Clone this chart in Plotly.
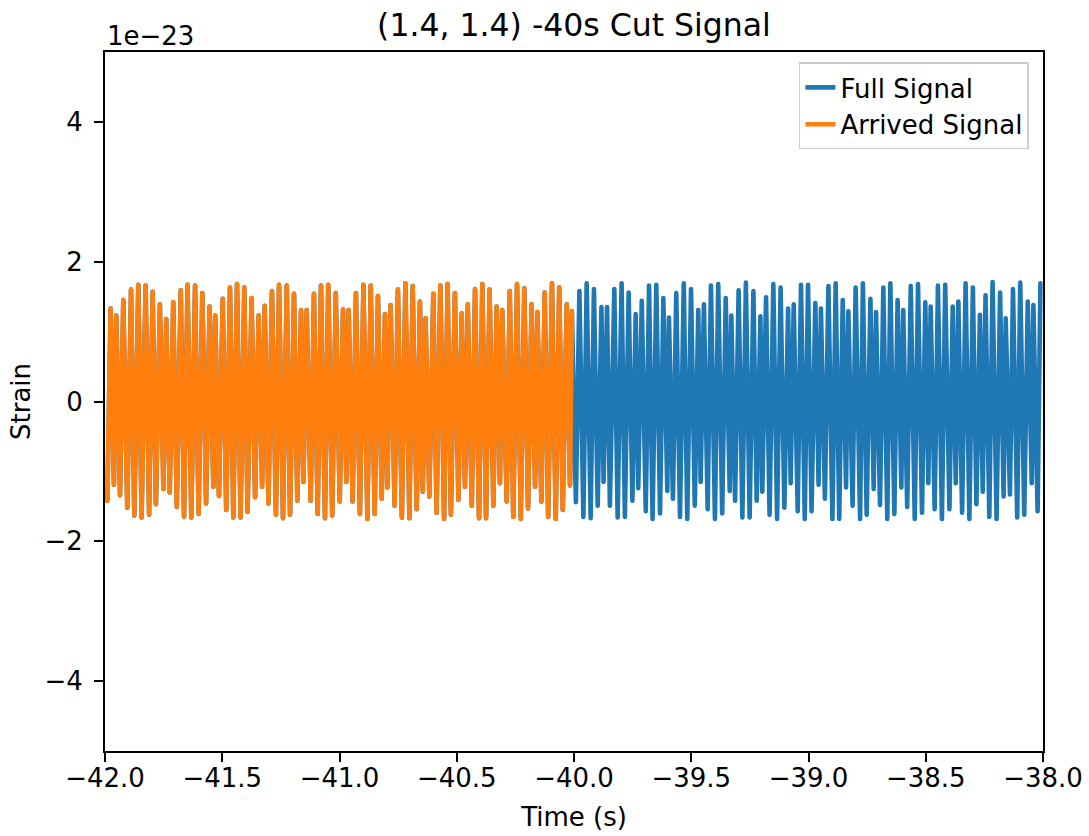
import numpy as np
import plotly.graph_objects as go

# Strain values are in units of 1e-23 (matplotlib offset text "1e−23")
# Per-cycle minima (troughs) and maxima (peaks) of the waveform
trough_time = [
    -41.990, -41.962, -41.936, -41.905, -41.875, -41.844, -41.812, -41.783, -41.751, -41.724,
    -41.694, -41.663, -41.632, -41.601, -41.569, -41.538, -41.514, -41.483, -41.453, -41.422,
    -41.392, -41.360, -41.330, -41.303, -41.271, -41.241,
    -41.211, -41.180, -41.154, -41.123, -41.093, -41.062, -41.031, -40.999, -40.971, -40.944,
    -40.913, -40.881, -40.850, -40.820, -40.796, -40.765, -40.734, -40.702, -40.671, -40.645,
    -40.617, -40.586, -40.554, -40.525, -40.493, -40.465, -40.436,
    -40.405, -40.375, -40.344, -40.316, -40.287, -40.259, -40.227, -40.196, -40.166, -40.139,
    -40.110, -40.078, -40.048, -40.017, -39.992, -39.960, -39.929, -39.899, -39.874, -39.847,
    -39.814, -39.783, -39.751, -39.726, -39.694, -39.665,
    -39.633, -39.602, -39.578, -39.548, -39.517, -39.485, -39.460, -39.430, -39.399, -39.368,
    -39.336, -39.313, -39.282, -39.251, -39.221, -39.197, -39.166, -39.134, -39.103, -39.076,
    -39.046, -39.016, -38.987, -38.957, -38.930, -38.898, -38.869,
    -38.840, -38.812, -38.780, -38.752, -38.722, -38.695, -38.664, -38.634, -38.604, -38.579,
    -38.547, -38.516, -38.489, -38.462, -38.431, -38.399, -38.372, -38.345, -38.314, -38.284,
    -38.257, -38.229, -38.198, -38.168, -38.141, -38.110, -38.080, -38.048, -38.023,
]
trough_strain = [
    -1.42, -1.19, -1.34, -1.52, -1.63, -1.66, -1.62, -1.47, -1.25, -1.30,
    -1.51, -1.65, -1.66, -1.61, -1.46, -1.22, -1.35, -1.55, -1.66, -1.66,
    -1.58, -1.37, -1.22, -1.46, -1.62, -1.67,
    -1.62, -1.42, -1.15, -1.42, -1.61, -1.67, -1.63, -1.43, -1.15, -1.43,
    -1.61, -1.68, -1.61, -1.39, -1.23, -1.49, -1.66, -1.67, -1.54, -1.29,
    -1.36, -1.59, -1.68, -1.62, -1.41, -1.22, -1.49,
    -1.67, -1.67, -1.49, -1.17, -1.43, -1.65, -1.68, -1.53, -1.22, -1.43,
    -1.65, -1.68, -1.55, -1.20, -1.44, -1.65, -1.67, -1.49, -1.15, -1.49,
    -1.66, -1.65, -1.42, -1.24, -1.57, -1.68,
    -1.60, -1.28, -1.39, -1.65, -1.68, -1.49, -1.15, -1.54, -1.68, -1.60,
    -1.28, -1.42, -1.66, -1.66, -1.42, -1.29, -1.62, -1.68, -1.52, -1.17,
    -1.57, -1.68, -1.57, -1.19, -1.39, -1.68, -1.68,
    -1.23, -1.49, -1.68, -1.62, -1.25, -1.48, -1.68, -1.61, -1.23, -1.51,
    -1.68, -1.59, -1.17, -1.54, -1.68, -1.54, -1.17, -1.59, -1.68, -1.47,
    -1.29, -1.65, -1.68, -1.36, -1.33, -1.66, -1.62, -1.17, -1.57,
]
peak_time = [
    -41.976, -41.952, -41.922, -41.889, -41.858, -41.827, -41.797, -41.766, -41.739, -41.709,
    -41.677, -41.648, -41.616, -41.585, -41.554, -41.530, -41.498, -41.467, -41.437, -41.406,
    -41.375, -41.345, -41.319, -41.288, -41.258, -41.225,
    -41.194, -41.164, -41.140, -41.109, -41.079, -41.048, -41.016, -40.985, -40.961, -40.930,
    -40.898, -40.867, -40.836, -40.806, -40.782, -40.751, -40.719, -40.688, -40.657, -40.633,
    -40.600, -40.570, -40.539, -40.508, -40.479, -40.453,
    -40.422, -40.391, -40.360, -40.330, -40.306, -40.274, -40.243, -40.212, -40.181, -40.156,
    -40.125, -40.094, -40.063, -40.031, -40.009, -39.977, -39.946, -39.915, -39.883, -39.859,
    -39.828, -39.797, -39.767, -39.737, -39.711, -39.680, -39.649,
    -39.619, -39.595, -39.564, -39.532, -39.501, -39.470, -39.446, -39.416, -39.385, -39.353,
    -39.329, -39.298, -39.267, -39.235, -39.205, -39.181, -39.150, -39.119, -39.087, -39.063,
    -39.032, -39.002, -38.971, -38.947, -38.915, -38.884, -38.854,
    -38.830, -38.799, -38.768, -38.736, -38.712, -38.681, -38.651, -38.620, -38.596, -38.564,
    -38.533, -38.502, -38.479, -38.448, -38.417, -38.385, -38.361, -38.330, -38.299, -38.269,
    -38.245, -38.215, -38.183, -38.159, -38.128, -38.097, -38.065, -38.041, -38.011,
]
peak_strain = [
    1.33, 1.23, 1.45, 1.60, 1.67, 1.66, 1.57, 1.39, 1.18, 1.42,
    1.59, 1.67, 1.66, 1.55, 1.36, 1.23, 1.47, 1.63, 1.68, 1.63,
    1.48, 1.23, 1.37, 1.58, 1.67, 1.66,
    1.54, 1.31, 1.31, 1.54, 1.66, 1.67, 1.55, 1.32, 1.31, 1.55,
    1.67, 1.66, 1.51, 1.25, 1.38, 1.60, 1.69, 1.65, 1.43, 1.19,
    1.54, 1.66, 1.68, 1.55, 1.26, 1.39,
    1.61, 1.68, 1.60, 1.36, 1.31, 1.58, 1.68, 1.62, 1.39, 1.28,
    1.56, 1.69, 1.63, 1.39, 1.29, 1.58, 1.69, 1.61, 1.35, 1.35,
    1.61, 1.69, 1.56, 1.25, 1.44, 1.66, 1.67,
    1.48, 1.20, 1.55, 1.69, 1.61, 1.31, 1.39, 1.66, 1.68, 1.48,
    1.23, 1.59, 1.70, 1.58, 1.22, 1.49, 1.68, 1.63, 1.33, 1.39,
    1.67, 1.67, 1.41, 1.33, 1.65, 1.69, 1.45,
    1.29, 1.63, 1.69, 1.47, 1.28, 1.63, 1.69, 1.45, 1.31, 1.65,
    1.68, 1.42, 1.36, 1.66, 1.67, 1.36, 1.43, 1.69, 1.63, 1.24,
    1.52, 1.71, 1.56, 1.19, 1.61, 1.70, 1.43, 1.38, 1.69,
]
cut_time = -40.0            # end of the "arrived" part of the signal
x_ticks = [-42.0, -41.5, -41.0, -40.5, -40.0, -39.5, -39.0, -38.5, -38.0]
y_ticks = [-4, -2, 0, 2, 4]
series_names = ["Full Signal", "Arrived Signal"]
series_colors = ["#1f77b4", "#ff7f0e"]

# merge extrema in time order into a single waveform
t_all = np.array(trough_time + peak_time)
h_all = np.array(trough_strain + peak_strain)
order = np.argsort(t_all)
t_all, h_all = t_all[order], h_all[order]
arrived = t_all <= cut_time

FONT = "DejaVu Sans"
LW = 4.6
fig = go.Figure()
fig.add_trace(go.Scatter(x=t_all, y=h_all, mode="lines", name=series_names[0],
                         line=dict(color=series_colors[0], width=LW, simplify=False)))
fig.add_trace(go.Scatter(x=t_all[arrived], y=h_all[arrived], mode="lines", name=series_names[1],
                         line=dict(color=series_colors[1], width=LW, simplify=False)))

axis_common = dict(showgrid=False, zeroline=False, showline=True, linecolor="black", linewidth=2,
                   mirror=True, ticks="outside", ticklen=9, tickwidth=2, tickcolor="black",
                   automargin=False,
                   tickfont=dict(family=FONT, size=26, color="black"))
fig.update_layout(
    width=1089, height=836,
    margin=dict(l=105, r=46, t=52, b=85),
    paper_bgcolor="white", plot_bgcolor="white",
    font=dict(family=FONT, color="black"),
    title=dict(text="(1.4, 1.4) -40s Cut Signal", x=0.5, xref="paper", xanchor="center",
               y=1 - 25 / 836, yref="container", yanchor="middle",
               font=dict(family=FONT, size=31.5, color="black")),
    xaxis=dict(range=[-42, -38], tickvals=x_ticks, tickformat=".1f",
               title=dict(text="Time (s)", font=dict(family=FONT, size=26), standoff=16),
               ticklabelstandoff=-6, **axis_common),
    yaxis=dict(range=[-5, 5], tickvals=y_ticks,
               title=dict(text="Strain", font=dict(family=FONT, size=26), standoff=6),
               ticklabelstandoff=6, **axis_common),
    legend=dict(x=0.985, y=0.985, xanchor="right", yanchor="top", bgcolor="white",
                bordercolor="#cccccc", borderwidth=1.5, tracegroupgap=4,
                font=dict(family=FONT, size=26, color="black")),
    showlegend=True,
)
fig.add_annotation(text="1e\u221223", xref="paper", yref="paper", x=0, y=1,
                   xanchor="left", yanchor="bottom", showarrow=False, yshift=-1,
                   font=dict(family=FONT, size=26, color="black"))

round_joins = ("document.querySelectorAll('.scatterlayer .js-line').forEach(function(p){"
               "p.style.strokeLinejoin='round';p.style.strokeLinecap='round';});")
fig.write_html("out.html", post_script=round_joins)
